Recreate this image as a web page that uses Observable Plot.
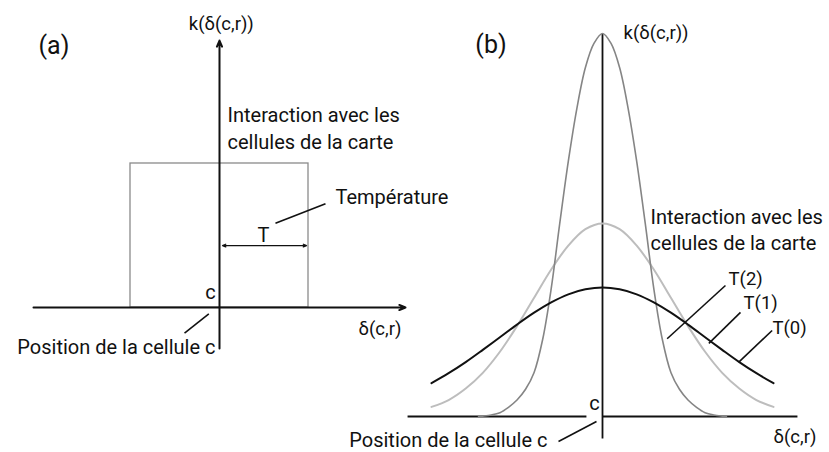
<!DOCTYPE html>
<html>
<head>
<meta charset="utf-8">
<script src="https://cdn.jsdelivr.net/npm/d3@7"></script>
<script src="https://cdn.jsdelivr.net/npm/@observablehq/plot@0.6"></script>
<style>
  html, body { margin: 0; padding: 0; background: #fff; }
  #fig { position: relative; width: 829px; height: 452px; overflow: hidden; background: #fff; }
  #fig svg { position: absolute; top: 0; }
</style>
</head>
<body>
<div id="fig"></div>
<script>
// ---- text shown on the figure ----
const panelTags = ["(a)", "(b)"];
const kernelTitle = "k(δ(c,r))";
const distanceTitle = "δ(c,r)";
const interactionText = ["Interaction avec les", "cellules de la carte"];
const positionText = "Position de la cellule c";
const centreText = "c";
const temperatureText = "Température";
const windowText = "T";
const temperatureLabels = ["T(0)", "T(1)", "T(2)"];

// ---- (a) rectangular neighbourhood: unit height over [-T, T] ----
const windowHalfWidth = 1;
const windowHeight = 1;

// ---- (b) Gaussian neighbourhoods, one per temperature ----
// T(0) and T(1): wide kernels sampled on δ = -10 … 10
const wideDelta = [-10, -9, -8, -7, -6, -5, -4, -3, -2, -1, 0, 1, 2, 3, 4, 5, 6, 7, 8, 9, 10];
const kT0 = [0.087, 0.113, 0.142, 0.174, 0.207, 0.240, 0.271, 0.298, 0.319, 0.332, 0.337,
             0.332, 0.319, 0.298, 0.271, 0.240, 0.207, 0.174, 0.142, 0.113, 0.087];
const kT1 = [0.025, 0.043, 0.073, 0.114, 0.169, 0.236, 0.310, 0.384, 0.446, 0.489, 0.504,
             0.489, 0.446, 0.384, 0.310, 0.236, 0.169, 0.114, 0.073, 0.043, 0.025];
// T(2): narrow kernel
const narrowDelta = [-7.25, -7, -6.5, -6, -5.5, -5, -4.5, -4, -3.5, -3, -2.5, -2, -1.5, -1, -0.5, 0,
                     0.5, 1, 1.5, 2, 2.5, 3, 3.5, 4, 4.5, 5, 5.5, 6, 6.5, 7, 7.25];
const kT2 = [0, 0.001, 0.004, 0.010, 0.024, 0.043, 0.071, 0.115, 0.201, 0.334, 0.504, 0.666, 0.804, 0.911, 0.974, 1.000,
             0.974, 0.911, 0.804, 0.666, 0.504, 0.334, 0.201, 0.115, 0.071, 0.043, 0.024, 0.010, 0.004, 0.001, 0];

const curveT0 = wideDelta.map((d, i) => ({d, k: kT0[i]}));
const curveT1 = wideDelta.map((d, i) => ({d, k: kT1[i]}));
const curveT2 = narrowDelta.map((d, i) => ({d, k: kT2[i]}));

const FONT = "Roboto, 'Noto Sans', sans-serif";
const INK = "#111";

function label(t, x, y, opts = {}) {
  return Plot.text([{t, x, y}], {x: "x", y: "y", text: "t", fill: INK, fontSize: 20, ...opts});
}
function segment(x1, y1, x2, y2, opts = {}) {
  return Plot.link([{x1, y1, x2, y2}], {x1: "x1", y1: "y1", x2: "x2", y2: "y2", stroke: INK, ...opts});
}
function arrow(x1, y1, x2, y2, opts = {}) {
  return Plot.arrow([{x1, y1, x2, y2}], {x1: "x1", y1: "y1", x2: "x2", y2: "y2", stroke: INK, headAngle: 45, ...opts});
}

const svgStyle = {fontFamily: FONT, background: "transparent", overflow: "visible"};

// ---------- panel (a) ----------
const T = windowHalfWidth;
const plotA = Plot.plot({
  width: 410, height: 452, margin: 0,
  x: {domain: [-T, T], range: [130, 308], axis: null},
  y: {domain: [0, windowHeight], range: [307, 163], axis: null},
  style: svgStyle,
  marks: [
    Plot.rect([{x1: -T, x2: T, y1: 0, y2: windowHeight}],
      {x1: "x1", x2: "x2", y1: "y1", y2: "y2", fill: "none", stroke: "#8a8a8a", strokeWidth: 1.3}),
    arrow(-2.09, 0, 2.09, 0, {strokeWidth: 2, headLength: 5}),
    arrow(0, -0.285, 0, 1.854, {strokeWidth: 2, headLength: 5}),
    // width of the window, T
    arrow(0.5 * T, 0.43, 0.034, 0.43, {strokeWidth: 1.3, headLength: 4}),
    arrow(0.5 * T, 0.43, 0.978 * T, 0.43, {strokeWidth: 1.3, headLength: 4}),
    segment(1.191, 0.72, 0.629, 0.585, {strokeWidth: 1.6}),
    segment(-0.12, -0.044, -0.393, -0.178, {strokeWidth: 1.6}),
    label(panelTags[0], -1.86, 1.819, {fontSize: 25}),
    label(kernelTitle, 0.02, 1.965, {fontSize: 18.5}),
    label(interactionText[0], 0.09, 1.333, {textAnchor: "start"}),
    label(interactionText[1], 0.09, 1.146, {textAnchor: "start"}),
    label(temperatureText, 1.303, 0.764, {textAnchor: "start"}),
    label(windowText, 0.494, 0.5),
    label(centreText, -0.101, 0.104),
    label(positionText, -0.045, -0.278, {textAnchor: "end"}),
    label(distanceTitle, 1.562, -0.153, {textAnchor: "start", fontSize: 18.5})
  ]
});

// ---------- panel (b) ----------
const plotB = Plot.plot({
  width: 419, height: 452, margin: 0,
  x: {domain: [-10, 10], range: [21, 363], axis: null},
  y: {domain: [0, 1], range: [416, 33], axis: null},
  style: svgStyle,
  marks: [
    segment(-11.4, 0, -0.94, 0, {strokeWidth: 1.8}),
    segment(0, 0, 11.4, 0, {strokeWidth: 1.8}),
    segment(0, -0.0574, 0, 1, {strokeWidth: 1.8}),
    Plot.line(curveT1, {x: "d", y: "k", stroke: "#bdbdbd", strokeWidth: 2, curve: "catmull-rom"}),
    Plot.line(curveT2, {x: "d", y: "k", stroke: "#858585", strokeWidth: 1.6, curve: "catmull-rom"}),
    Plot.line(curveT0, {x: "d", y: "k", stroke: "#111", strokeWidth: 2, curve: "catmull-rom"}),
    segment(7.19, 0.342, 3.78, 0.203, {strokeWidth: 1.6}),
    segment(8.07, 0.272, 6.22, 0.191, {strokeWidth: 1.6}),
    segment(9.92, 0.2245, 7.97, 0.142, {strokeWidth: 1.6}),
    segment(-2.573, -0.0653, -0.351, -0.0131, {strokeWidth: 1.6}),
    label(panelTags[1], -6.52, 0.969, {fontSize: 25}),
    label(kernelTitle, 1.23, 1.0, {textAnchor: "start", fontSize: 18.5}),
    label(interactionText[0], 2.81, 0.52, {textAnchor: "start"}),
    label(interactionText[1], 2.81, 0.452, {textAnchor: "start"}),
    label(temperatureLabels[2], 7.37, 0.36, {textAnchor: "start", fontSize: 18.5}),
    label(temperatureLabels[1], 8.25, 0.295, {textAnchor: "start", fontSize: 18.5}),
    label(temperatureLabels[0], 9.94, 0.232, {textAnchor: "start", fontSize: 18.5}),
    label(centreText, -0.47, 0.034),
    label(positionText, -3.22, -0.0627, {textAnchor: "end"}),
    label(distanceTitle, 10.0, -0.0548, {textAnchor: "start", fontSize: 18.5})
  ]
});

const fig = document.getElementById("fig");
plotA.style.left = "0px";
plotB.style.left = "410px";
fig.append(plotA, plotB);
</script>
</body>
</html>
